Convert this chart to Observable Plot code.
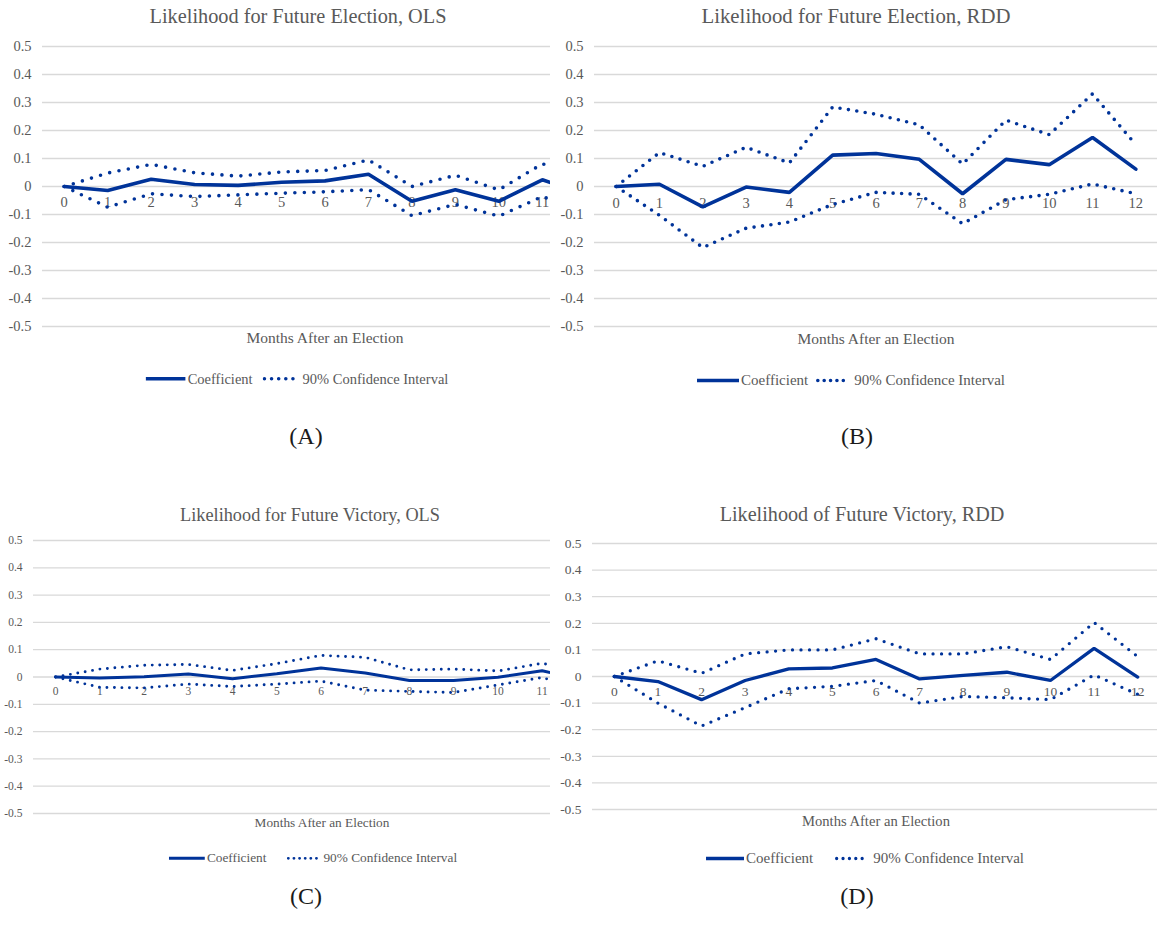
<!DOCTYPE html>
<html>
<head>
<meta charset="utf-8">
<script src="https://cdn.jsdelivr.net/npm/d3@7"></script>
<script src="https://cdn.jsdelivr.net/npm/@observablehq/plot@0.6"></script>
<style>
  html, body { margin: 0; padding: 0; background: #fff; }
  body { width: 1157px; height: 940px; position: relative; overflow: hidden;
         font-family: "Liberation Serif", "Times New Roman", serif; }
  .panel { position: absolute; overflow: hidden; }
  .panel svg { max-width: none !important; display: block; overflow: visible; }
  .lbl { position: absolute; transform: translate(-50%, -50%); white-space: nowrap;
         color: #595959; line-height: 1; }
  .caption { position: absolute; transform: translate(-50%, -50%); white-space: nowrap;
             color: #1a1a1a; line-height: 1; font-size: 24px; }
  .legend { position: absolute; transform: translate(-50%, -50%); display: flex;
            align-items: center; white-space: nowrap; color: #595959; line-height: 1; }
  .legend svg { display: block; }
</style>
</head>
<body>
<script>
// Months after an election (category axis)
const months = [0, 1, 2, 3, 4, 5, 6, 7, 8, 9, 10, 11, 12];
const yTicks = [-0.5, -0.4, -0.3, -0.2, -0.1, 0, 0.1, 0.2, 0.3, 0.4, 0.5];

// (A) Likelihood for future election, OLS
const electionOlsCoef  = [0, -0.014, 0.026, 0.007, 0.004, 0.015, 0.020, 0.044, -0.053, -0.012, -0.053, 0.024, -0.030];
const electionOlsUpper = [0, 0.048, 0.079, 0.049, 0.037, 0.052, 0.057, 0.095, 0.000, 0.040, -0.012, 0.081, 0.030];
const electionOlsLower = [0, -0.074, -0.026, -0.036, -0.030, -0.024, -0.019, -0.011, -0.104, -0.064, -0.106, -0.036, -0.090];

// (B) Likelihood for future election, RDD
const electionRddCoef  = [0, 0.008, -0.073, -0.002, -0.021, 0.112, 0.118, 0.097, -0.026, 0.097, 0.078, 0.175, 0.062];
const electionRddUpper = [0, 0.121, 0.072, 0.140, 0.084, 0.284, 0.258, 0.220, 0.080, 0.237, 0.185, 0.331, 0.149];
const electionRddLower = [0, -0.103, -0.218, -0.149, -0.127, -0.064, -0.021, -0.028, -0.133, -0.047, -0.028, 0.009, -0.026];

// (C) Likelihood for future victory, OLS
const victoryOlsCoef  = [0, -0.004, 0.001, 0.011, -0.006, 0.012, 0.033, 0.015, -0.013, -0.013, -0.001, 0.023, -0.015];
const victoryOlsUpper = [0, 0.029, 0.043, 0.046, 0.024, 0.049, 0.079, 0.072, 0.026, 0.029, 0.022, 0.050, 0.020];
const victoryOlsLower = [0, -0.038, -0.040, -0.026, -0.035, -0.026, -0.015, -0.048, -0.053, -0.057, -0.029, -0.002, -0.050];

// (D) Likelihood of future victory, RDD
const victoryRddCoef  = [0, -0.019, -0.087, -0.015, 0.029, 0.032, 0.064, -0.009, 0.004, 0.016, -0.015, 0.106, -0.002];
const victoryRddUpper = [0, 0.059, 0.012, 0.085, 0.100, 0.100, 0.142, 0.085, 0.085, 0.112, 0.064, 0.203, 0.075];
const victoryRddLower = [0, -0.100, -0.186, -0.117, -0.046, -0.037, -0.015, -0.100, -0.075, -0.080, -0.087, 0.006, -0.067];

const titles = [
  "Likelihood for Future Election, OLS",
  "Likelihood for Future Election, RDD",
  "Likelihood for Future Victory, OLS",
  "Likelihood of Future Victory, RDD"
];
const xTitle = "Months After an Election";
const legendLabels = ["Coefficient", "90% Confidence Interval"];
const captions = ["(A)", "(B)", "(C)", "(D)"];

const BLUE = "#003399";
const GRID = "#d9d9d9";
const TEXT = "#595959";

// Panel layout: where each plot frame sits on the page
const panels = [
  { coef: electionOlsCoef, upper: electionOlsUpper, lower: electionOlsLower,
    left: 0, top: 0, clipW: 550, plotL: 42, plotR: 607, plotT: 46, plotB: 326,
    tick: 14.5, dy: 16, lw: 3.6, dotW: 3.6, dotGap: 9.5,
    title: [298, 16, 20.3], xt: [325, 338, 15.5], leg: [297, 379, 14.5, 40, 35, 10], cap: [306, 436] },
  { coef: electionRddCoef, upper: electionRddUpper, lower: electionRddLower,
    left: 550, top: 0, clipW: 607, plotL: 594, plotR: 1157, plotT: 46, plotB: 326,
    tick: 14.5, dy: 16.5, lw: 3.6, dotW: 3.6, dotGap: 8.5,
    title: [856, 16, 20.8], xt: [876, 339, 15.5], leg: [851, 380, 15, 42, 33, 8], cap: [857, 436] },
  { coef: victoryOlsCoef, upper: victoryOlsUpper, lower: victoryOlsLower,
    left: 0, top: 500, clipW: 550, plotL: 33, plotR: 608, plotT: 540, plotB: 813,
    tick: 11.5, dy: 14.5, lw: 3, dotW: 2.9, dotGap: 7.5,
    title: [310, 515, 18.3], xt: [322, 823, 13.3], leg: [313, 858, 13.3, 36, 32, 20], cap: [306, 896] },
  { coef: victoryRddCoef, upper: victoryRddUpper, lower: victoryRddLower,
    left: 550, top: 500, clipW: 607, plotL: 592, plotR: 1159, plotT: 543, plotB: 809,
    tick: 13.5, dy: 15.5, lw: 3.3, dotW: 3.3, dotGap: 8.5,
    title: [862, 514, 20.2], xt: [876, 821, 14.6], leg: [865, 858, 15, 38, 33, 22], cap: [857, 896] }
];

function addLabel(cls, text, x, y, size) {
  const el = document.createElement("div");
  el.className = cls;
  el.textContent = text;
  el.style.left = x + "px";
  el.style.top = y + "px";
  if (size) el.style.fontSize = size + "px";
  document.body.appendChild(el);
}

function addLegend(p) {
  const [cx, cy, size, solidLen, dotLen, gap] = p.leg;
  const box = document.createElement("div");
  box.className = "legend";
  box.style.left = cx + "px";
  box.style.top = cy + "px";
  box.style.fontSize = size + "px";
  const h = 10;
  box.innerHTML =
    `<svg width="${solidLen}" height="${h}"><line x1="0" x2="${solidLen}" y1="${h/2}" y2="${h/2}" stroke="${BLUE}" stroke-width="${p.lw}"/></svg>` +
    `<span style="margin-left:2px">${legendLabels[0]}</span>` +
    `<svg width="${dotLen}" height="${h}" style="margin-left:${gap}px"><line x1="${p.dotW/2}" x2="${dotLen}" y1="${h/2}" y2="${h/2}" stroke="${BLUE}" stroke-width="${p.dotW}" stroke-linecap="round" stroke-dasharray="0 ${p.dotGap * 0.75}"/></svg>` +
    `<span style="margin-left:5px">${legendLabels[1]}</span>`;
  document.body.appendChild(box);
}

panels.forEach((p, i) => {
  const rows = months.map((m, k) => ({ month: m, coef: p.coef[k], upper: p.upper[k], lower: p.lower[k] }));
  const svgW = p.plotR - p.left;
  const svgH = p.plotB - p.top + 14;

  // Category labels are only drawn where they fall inside the visible panel width
  const band = (p.plotR - p.plotL) / months.length;
  const shownMonths = months.filter(m => p.plotL + (m + 0.5) * band + 8 < p.left + p.clipW);

  const chart = Plot.plot({
    width: svgW,
    height: svgH,
    marginLeft: p.plotL - p.left,
    marginRight: 0,
    marginTop: p.plotT - p.top,
    marginBottom: svgH - (p.plotB - p.top),
    style: { fontFamily: "'Liberation Serif', 'Times New Roman', serif", fontSize: p.tick + "px",
             color: TEXT, background: "transparent", maxWidth: "none" },
    x: { domain: [-0.5, 12.5], axis: null },
    y: { domain: [-0.5, 0.5], axis: null },
    marks: [
      Plot.ruleY(yTicks, { y: d => d, stroke: GRID, strokeWidth: 1.3 }),
      Plot.axisY(yTicks, { tickSize: 0, tickPadding: 11, tickFormat: d => String(d),
                           fill: TEXT, fontSize: p.tick }),
      Plot.text(shownMonths, { x: d => d, y: 0, dy: p.dy, text: d => String(d),
                               fill: TEXT, fontSize: p.tick }),
      Plot.line(rows, { x: "month", y: "upper", stroke: BLUE, strokeWidth: p.dotW,
                        strokeLinecap: "round", strokeDasharray: `0 ${p.dotGap}` }),
      Plot.line(rows, { x: "month", y: "lower", stroke: BLUE, strokeWidth: p.dotW,
                        strokeLinecap: "round", strokeDasharray: `0 ${p.dotGap}` }),
      Plot.line(rows, { x: "month", y: "coef", stroke: BLUE, strokeWidth: p.lw,
                        strokeLinejoin: "miter" })
    ]
  });

  const wrap = document.createElement("div");
  wrap.className = "panel";
  wrap.style.left = p.left + "px";
  wrap.style.top = p.top + "px";
  wrap.style.width = p.clipW + "px";
  wrap.style.height = svgH + "px";
  wrap.appendChild(chart);
  document.body.appendChild(wrap);

  addLabel("lbl", titles[i], p.title[0], p.title[1], p.title[2]);
  addLabel("lbl", xTitle, p.xt[0], p.xt[1], p.xt[2]);
  addLegend(p);
  addLabel("caption", captions[i], p.cap[0], p.cap[1]);
});
</script>
</body>
</html>
